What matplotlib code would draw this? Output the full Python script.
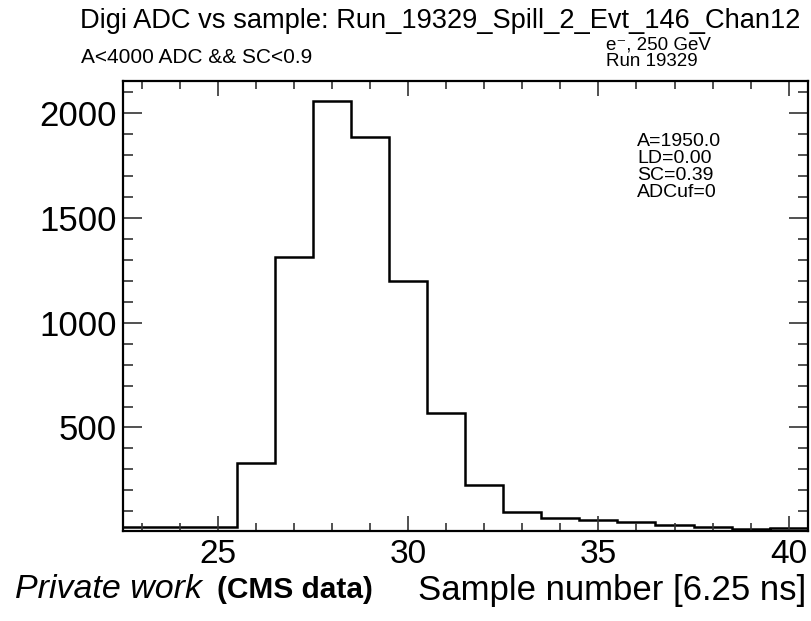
import numpy as np
import matplotlib
matplotlib.use('Agg')
import matplotlib.pyplot as plt
from matplotlib.ticker import MultipleLocator

# bin centres (sample number) and ADC counts
samples = [23, 24, 25, 26, 27, 28, 29, 30, 31, 32, 33, 34, 35, 36, 37, 38, 39, 40]
adc = [27, 27, 27, 331, 1315, 2057, 1887, 1198, 570, 223, 95, 68, 58, 50, 36, 26, 15, 21]

title = 'Digi ADC vs sample: Run_19329_Spill_2_Evt_146_Chan12'
cut_text = 'A<4000 ADC && SC<0.9'
beam_lines = ['e\u207b, 250 GeV', 'Run 19329']
fit_lines = ['A=1950.0', 'LD=0.00', 'SC=0.39', 'ADCuf=0']

plt.rcParams['font.family'] = ['Liberation Sans', 'DejaVu Sans']

W, H = 812, 621
fig = plt.figure(figsize=(W / 100, H / 100), dpi=100)
ax = fig.add_axes([122.7 / W, 1 - 530.5 / H, (807.7 - 122.7) / W, (530.5 - 80.7) / H])

edges = np.concatenate([[samples[0] - 0.5], np.array(samples) + 0.5])
ax.stairs(adc, edges, baseline=None, color='black', lw=1.8)

ax.set_xlim(22.5, 40.5)
ax.set_ylim(8, 2156)
ax.xaxis.set_major_locator(MultipleLocator(5))
ax.xaxis.set_minor_locator(MultipleLocator(1))
ax.yaxis.set_major_locator(MultipleLocator(500))
ax.yaxis.set_minor_locator(MultipleLocator(100))

ax.tick_params(which='both', direction='in', top=True, right=True, width=1.2, color='#333333')
ax.tick_params(axis='x', which='major', length=11, labelsize=24, pad=6)
ax.tick_params(axis='x', which='minor', length=6)
ax.tick_params(axis='y', which='major', length=14, labelsize=25, pad=4)
ax.tick_params(axis='y', which='minor', length=7.5)
for sp in ax.spines.values():
    sp.set_linewidth(1.6)

# header texts (ROOT style)
fig.text(80 / W, 1 - 28 / H, title, fontsize=19.6, ha='left', va='baseline')
fig.text(81 / W, 1 - 63 / H, cut_text, fontsize=15, ha='left', va='baseline')
fig.text(606 / W, 1 - 37 / H, '\n'.join(beam_lines), fontsize=13.5, ha='left', va='top',
         linespacing=0.95)

# fit results box, one block with tight line spacing
fig.text(637 / W, 1 - 133 / H, '\n'.join(fit_lines), fontsize=14, ha='left', va='top',
         linespacing=1.0)

# bottom labels
fig.text(15 / W, 1 - 598 / H, 'Private work', fontsize=24.5, style='italic', ha='left', va='baseline')
fig.text(373 / W, 1 - 598 / H, '(CMS data)', fontsize=21.5, weight='bold', ha='right', va='baseline')
fig.text(806 / W, 1 - 600 / H, 'Sample number [6.25 ns]', fontsize=25, ha='right', va='baseline')

fig.savefig('out.png', dpi=100)
